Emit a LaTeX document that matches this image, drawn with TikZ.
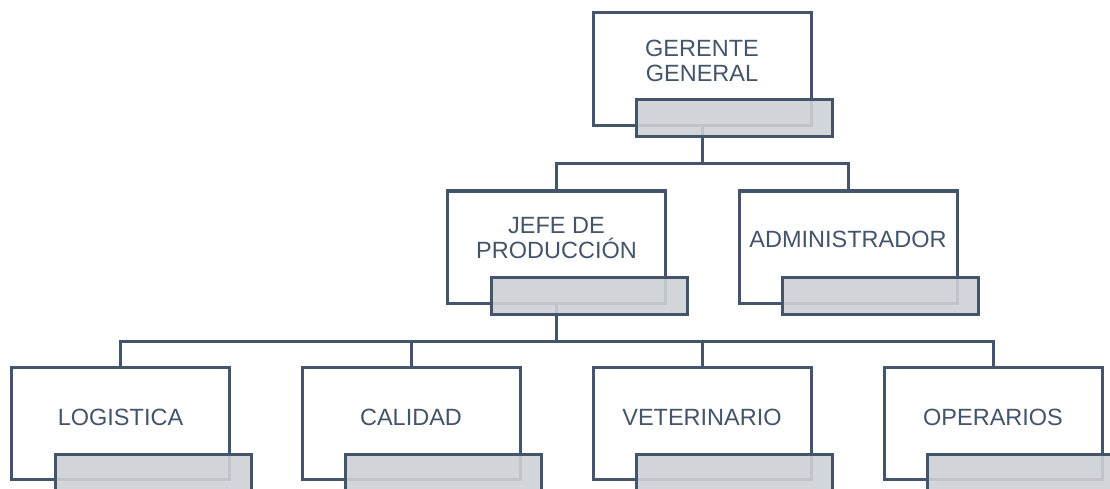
\documentclass[tikz,border=0pt]{standalone}
\usepackage{fontspec}
\setmainfont{Liberation Sans}
\definecolor{bc}{HTML}{44546A}
\definecolor{gr}{RGB}{205,208,213}
\pgfdeclarelayer{bg}
\pgfsetlayers{bg,main}
\begin{document}
\begin{tikzpicture}[x=1pt,y=-1pt,
  box/.style={draw=bc,line width=3pt,fill=white,minimum width=218pt,minimum height=112pt,inner sep=0pt,outer sep=0pt},
  shade/.style={draw=bc,line width=3pt,fill=gr,fill opacity=0.9,minimum width=196pt,minimum height=37pt,inner sep=0pt,outer sep=0pt},
  lbl/.style={text=bc,font=\fontsize{23.5}{25}\selectfont,inner sep=0pt,align=center},
  conn/.style={draw=bc,line width=3pt,line join=miter}]
\useasboundingbox (0,0) rectangle (1110,489);
\clip (0,0) rectangle (1110,489);
% box frames
\node[box,minimum height=113pt] (g) at (702,69.5) {};
\node[box] (j) at (556.5,247) {};
\node[box] (a) at (848,247) {};
\node[box] (c1) at (120.5,423.5) {};
\node[box] (c2) at (411,423.5) {};
\node[box] (c3) at (702,423.5) {};
\node[box] (c4) at (993,423.5) {};
% connectors (behind boxes)
\coordinate (bus1) at (702,164);
\coordinate (bus2) at (556.5,341);
\begin{pgfonlayer}{bg}
\draw[conn] (g.south) -- (bus1);
\draw[conn] (j.north) |- (bus1) -| (a.north);
\draw[conn] (j.south) -- (bus2);
\draw[conn] (c1.north) |- (bus2) -| (c4.north);
\draw[conn] (c2.north) -- (c2.north |- bus2);
\draw[conn] (c3.north) -- (c3.north |- bus2);
\end{pgfonlayer}
% gray tabs
\node[shade] (gs) at ([shift={(32.5,49)}]g.center) {};
\node[shade] (js) at ([shift={(32.5,49)}]j.center) {};
\node[shade] (as) at ([shift={(32.5,49)}]a.center) {};
\node[shade] (c1s) at ([shift={(32.5,49)}]c1.center) {};
\node[shade] (c2s) at ([shift={(32.5,49)}]c2.center) {};
\node[shade] (c3s) at ([shift={(32.5,49)}]c3.center) {};
\node[shade] (c4s) at ([shift={(32.5,49)}]c4.center) {};
% labels
\node[lbl] (gt) at (702,61) {GERENTE\\GENERAL};
\node[lbl] (jt) at (556.5,238.5) {JEFE DE\\PRODUCCIÓN};
\node[lbl,anchor=base] (at) at (848,247) {ADMINISTRADOR};
\node[lbl,anchor=base] (t1) at (120.5,425) {LOGISTICA};
\node[lbl,anchor=base] (t2) at (411,425) {CALIDAD};
\node[lbl,anchor=base] (t3) at (702,425) {VETERINARIO};
\node[lbl,anchor=base] (t4) at (993,425) {OPERARIOS};
\end{tikzpicture}
\end{document}
